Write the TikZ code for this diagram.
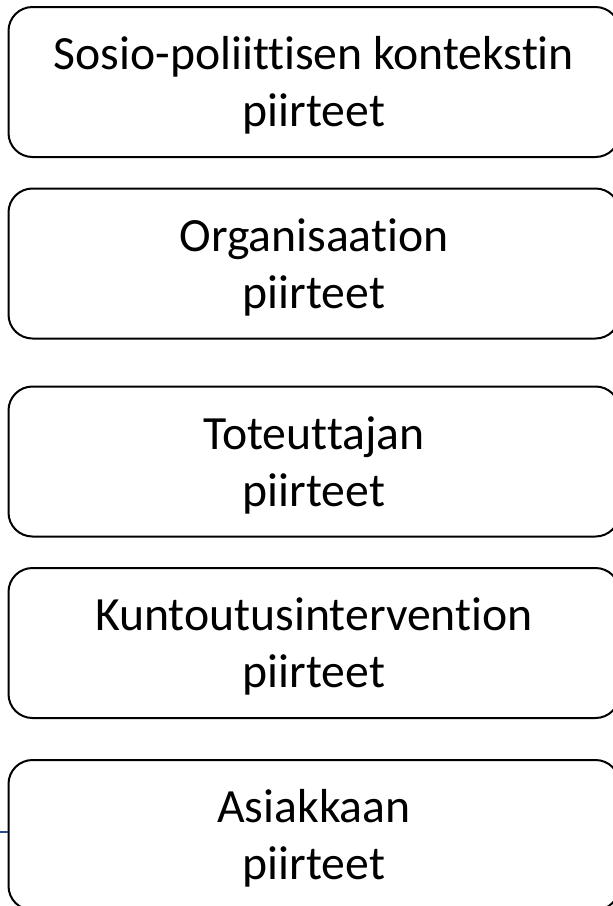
\documentclass[tikz,border=0pt]{standalone}
\usepackage{fontspec}
\setmainfont{Carlito}[Ligatures=NoCommon,RawFeature={-liga;-clig;-dlig}]
\definecolor{linkblue}{RGB}{38,76,140}
\newcommand{\toprule}{\rule{0pt}{45pt}}
\newcommand{\botrule}{\rule[-13pt]{0pt}{13pt}}
\begin{document}
\begin{tikzpicture}[x=1pt,y=-1pt,
  box/.style={draw=black, line width=2pt, rounded corners=24pt,
    minimum width=611pt, minimum height=150pt, inner sep=0pt,
    align=center, font=\fontsize{47.7}{57}\selectfont},
  link/.style={draw=linkblue, line width=2pt}]
\useasboundingbox (0,0) rectangle (613,906);
\node[box] (b1) at (314,82) {\toprule Sosio-poliittisen kontekstin\\piirteet\botrule};
\node[box] (b2) at (314,263.5) {\toprule Organisaation\\piirteet\botrule};
\node[box] (b3) at (314,461.5) {\toprule Toteuttajan\\piirteet\botrule};
\node[box] (b4) at (314,643) {\toprule Kuntoutusintervention\\piirteet\botrule};
\node[box] (b5) at (314,835) {\toprule Asiakkaan\\piirteet\botrule};
\coordinate (lft) at (-4,832);
\draw[link] (lft) -- (lft -| b5.west);
\end{tikzpicture}
\end{document}
